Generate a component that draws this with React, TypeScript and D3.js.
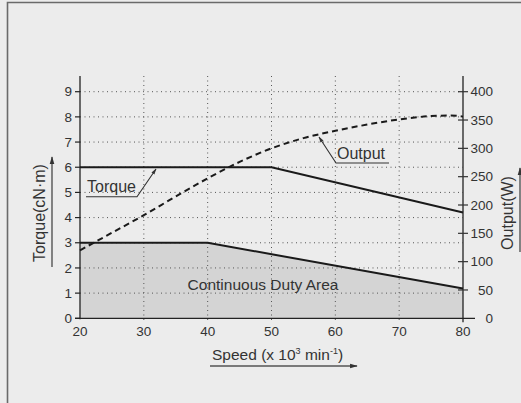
import React from "react";
import * as d3 from "d3";

const speedTicks = [20, 30, 40, 50, 60, 70, 80];
const torqueTicks = [0, 1, 2, 3, 4, 5, 6, 7, 8, 9];
const outputTicks = [0, 50, 100, 150, 200, 250, 300, 350, 400];

const maxTorqueSpeed = [20, 50, 80];
const maxTorque = [6, 6, 4.2];

const contTorqueSpeed = [20, 40, 80];
const contTorque = [3, 3, 1.18];

const outputSpeed = [20, 25, 30, 35, 40, 45, 50, 55, 60, 65, 70, 75, 78, 80];
const outputW = [120, 151, 182, 215, 247, 276, 300, 318, 331, 342, 351, 357, 358, 356];

const W = 521;
const H = 403;
const FONT = "'Liberation Sans', Arial, sans-serif";
const TXT = "#333";

export default function App() {
  const x = d3.scaleLinear().domain([20, 80]).range([80, 463]);
  const yT = d3.scaleLinear().domain([0, 9]).range([318.3, 91.7]);
  const yW = d3.scaleLinear().domain([0, 400]).range([318.3, 91.7]);
  const axisTop = 76;

  const maxPts: [number, number][] = maxTorqueSpeed.map((s, i) => [s, maxTorque[i]]);
  const contPts: [number, number][] = contTorqueSpeed.map((s, i) => [s, contTorque[i]]);
  const outPts: [number, number][] = outputSpeed.map((s, i) => [s, outputW[i]]);

  const lineT = d3.line<[number, number]>().x((d) => x(d[0])).y((d) => yT(d[1]));
  const areaT = d3
    .area<[number, number]>()
    .x((d) => x(d[0]))
    .y0(yT(0))
    .y1((d) => yT(d[1]));
  const lineW = d3
    .line<[number, number]>()
    .x((d) => x(d[0]))
    .y((d) => yW(d[1]))
    .curve(d3.curveMonotoneX);

  return (
    <svg
      width={W}
      height={H}
      style={{ position: "absolute", left: 0, top: 0, background: "#ececec" }}
      fontFamily={FONT}
    >
      <defs>
        <marker id="ah" viewBox="0 0 10 10" refX="9" refY="5" markerWidth="5.5" markerHeight="5.5" orient="auto">
          <path d="M0,2 L10,5 L0,8 z" fill="#333" />
        </marker>
      </defs>
      <rect x={0} y={0} width={W} height={H} fill="#ececec" />
      <path d={`M7.5,${H} V2.5 H${W}`} fill="none" stroke="#6a6a6a" strokeWidth={1.6} />

      {/* continuous duty area */}
      <path d={areaT(contPts) || ""} fill="#d4d4d4" />

      {/* grid */}
      {torqueTicks.filter((t) => t > 0).map((t) => (
        <line key={"gh" + t} x1={x(20)} x2={x(80)} y1={yT(t)} y2={yT(t)} stroke="#555" strokeWidth={1} strokeDasharray="1,3.5" />
      ))}
      {speedTicks.filter((s) => s > 20 && s < 80).map((s) => (
        <line key={"gv" + s} x1={x(s)} x2={x(s)} y1={axisTop} y2={yT(0) + 4} stroke="#555" strokeWidth={1} strokeDasharray="1,3.5" />
      ))}

      {/* axes */}
      <line x1={x(20)} x2={x(20)} y1={axisTop} y2={yT(0) + 1} stroke="#222" strokeWidth={1.3} />
      <line x1={x(80)} x2={x(80)} y1={axisTop} y2={yT(0) + 4} stroke="#222" strokeWidth={1.3} />
      <line x1={75} x2={475} y1={yT(0)} y2={yT(0)} stroke="#222" strokeWidth={1.3} />

      {/* left ticks */}
      {torqueTicks.map((t) => (
        <g key={"lt" + t}>
          <line x1={x(20) - 5} x2={x(20)} y1={yT(t)} y2={yT(t)} stroke="#222" strokeWidth={1.2} />
          <text x={72} y={yT(t)} dy="0.35em" textAnchor="end" fontSize={13.5} fill={TXT}>
            {t}
          </text>
        </g>
      ))}
      {/* right ticks */}
      {outputTicks.map((w) => (
        <g key={"rt" + w}>
          {w > 0 && (
            <line x1={x(80) - 5} x2={x(80) + 5} y1={yW(w)} y2={yW(w)} stroke="#333" strokeWidth={1.2} />
          )}
          <text x={493} y={yW(w)} dy="0.35em" textAnchor="end" fontSize={13.5} fill={TXT}>
            {w}
          </text>
        </g>
      ))}
      {/* bottom ticks */}
      {speedTicks.map((s) => (
        <text key={"bt" + s} x={x(s)} y={yT(0) + 18} textAnchor="middle" fontSize={13.5} fill={TXT}>
          {s}
        </text>
      ))}

      {/* curves */}
      <path d={lineT(contPts) || ""} fill="none" stroke="#1a1a1a" strokeWidth={2} />
      <path d={lineT(maxPts) || ""} fill="none" stroke="#1a1a1a" strokeWidth={2} />
      <path d={lineW(outPts) || ""} fill="none" stroke="#1a1a1a" strokeWidth={2} strokeDasharray="6,4" />

      {/* annotations */}
      <text x={87} y={192} fontSize={16} fill={TXT}>Torque</text>
      <path d="M86,196.7 H137 L156,169" fill="none" stroke="#333" strokeWidth={1.1} markerEnd="url(#ah)" />
      <text x={337} y={159} fontSize={16} fill={TXT}>Output</text>
      <path d="M389,163 H336 L319,137" fill="none" stroke="#333" strokeWidth={1.1} markerEnd="url(#ah)" />

      <text x={263} y={290} textAnchor="middle" fontSize={15.5} fill={TXT}>Continuous Duty Area</text>

      {/* axis titles */}
      <text x={212} y={360} fontSize={15.5} fill={TXT}>
        Speed (x 10<tspan fontSize={9} dy={-6}>3</tspan>
        <tspan dy={6}> min</tspan>
        <tspan fontSize={9} dy={-6}>-1</tspan>
        <tspan dy={6}>)</tspan>
      </text>
      <line x1={210} x2={357} y1={366} y2={366} stroke="#555" strokeWidth={1.4} markerEnd="url(#ah)" />

      <text transform="translate(45,213) rotate(-90)" textAnchor="middle" fontSize={16} fill={TXT}>
        Torque(cN·m)
      </text>
      <line x1={52} x2={52} y1={267} y2={157} stroke="#555" strokeWidth={1.4} markerEnd="url(#ah)" />

      <text transform="translate(513,213) rotate(-90)" textAnchor="middle" fontSize={16} fill={TXT}>
        Output(W)
      </text>
      <line x1={520} x2={520} y1={252} y2={168} stroke="#555" strokeWidth={1.4} markerEnd="url(#ah)" />
    </svg>
  );
}
